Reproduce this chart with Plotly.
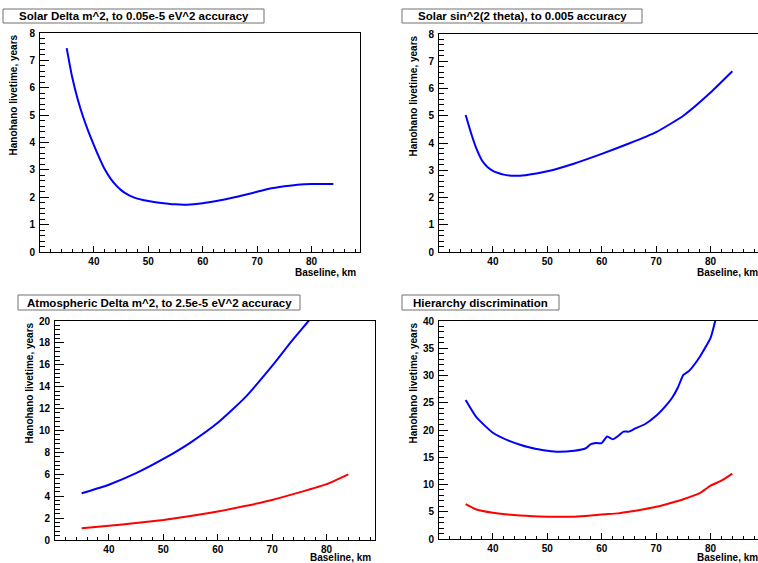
import plotly.graph_objects as go

W, H = 758, 563

# ---- data ----
p1_x = [35, 36, 37, 38, 39, 40, 41, 42, 43, 44, 45, 46, 47, 48, 49, 50, 52, 55, 57, 60, 63, 65, 68, 70, 72, 75, 78, 80, 84]
p1_y = [7.45, 6.4, 5.6, 4.95, 4.4, 3.9, 3.44, 3.02, 2.7, 2.45, 2.26, 2.12, 2.02, 1.95, 1.9, 1.86, 1.8, 1.74, 1.73, 1.78, 1.88, 1.96, 2.1, 2.2, 2.3, 2.4, 2.47, 2.48, 2.48]

p2_x = [35, 36, 37, 38, 39, 40, 41, 42, 43, 44, 45, 46, 48, 50, 55, 60, 65, 70, 75, 80, 84]
p2_y = [5.03, 4.36, 3.78, 3.36, 3.12, 2.98, 2.9, 2.84, 2.81, 2.8, 2.8, 2.82, 2.88, 2.96, 3.25, 3.6, 3.98, 4.4, 5.0, 5.85, 6.63]

p3_x = [35, 40, 45, 50, 55, 60, 65, 70, 73, 75, 77, 80]
p3_blue = [4.27, 5.05, 6.1, 7.4, 8.9, 10.7, 13.0, 15.9, 17.8, 19.0, 20.2, 22.3]
p3_rx = [35, 40, 45, 50, 55, 60, 65, 70, 75, 80, 84]
p3_red = [1.07, 1.3, 1.55, 1.83, 2.2, 2.6, 3.1, 3.66, 4.35, 5.1, 6.0]

p4_x = [35, 37, 40, 43, 45, 48, 50, 52, 55, 57, 58, 59, 60, 61, 62, 63, 64, 65, 66, 68, 70, 72, 73, 74, 75, 76, 78, 80, 81, 82]
p4_blue = [25.5, 22.3, 19.5, 18.0, 17.3, 16.5, 16.2, 16.0, 16.2, 16.6, 17.4, 17.6, 17.6, 18.8, 18.3, 18.9, 19.7, 19.7, 20.2, 21.1, 22.6, 24.7, 26.0, 27.8, 30.1, 30.8, 33.4, 36.9, 40.5, 43.0]
p4_rx = [35, 37, 40, 45, 50, 55, 58, 60, 63, 65, 68, 70, 73, 75, 78, 80, 82, 84]
p4_red = [6.4, 5.4, 4.8, 4.3, 4.1, 4.1, 4.3, 4.5, 4.7, 5.0, 5.5, 5.9, 6.7, 7.3, 8.4, 9.8, 10.7, 12.0]

titles = ["Solar Delta m^2, to 0.05e-5 eV^2 accuracy",
          "Solar sin^2(2 theta), to 0.005 accuracy",
          "Atmospheric Delta m^2, to 2.5e-5 eV^2 accuracy",
          "Hierarchy discrimination"]
xtitle = "Baseline, km"
ytitle = "Hanohano livetime, years"

BLUE = "#0000ff"
RED = "#ff0000"
FONT = "Liberation Sans, Arial, sans-serif"

def px(x):
    return x / W

def py(y):
    return 1 - y / H

# panel frames in pixels: (left, top, right, bottom)
frames = [(40, 33, 360, 252), (439, 34, 758, 252), (55, 321, 375, 540), (439, 321, 758, 539)]
kmpx = 320 / 58.8
xranges = [[30.1, 88.9], [30.1, 30.1 + 319 / kmpx], [30.1, 88.9], [30.1, 30.1 + 319 / kmpx]]
yranges = [[0, 8], [0, 8], [0, 20], [0, 40]]
ydt = [1, 1, 2, 5]
boxes = [(3, 9, 264, 23), (402, 9, 642, 23), (18, 295, 300, 310), (402, 295, 559, 310)]
ytitle_x = [13, 413, 29, 413]
xtitle_y = [272.5, 272.5, 557.5, 557.5]

fig = go.Figure()

series = [
    [(p1_x, p1_y, BLUE)],
    [(p2_x, p2_y, BLUE)],
    [(p3_x, p3_blue, BLUE), (p3_rx, p3_red, RED)],
    [(p4_x, p4_blue, BLUE), (p4_rx, p4_red, RED)],
]

for i, sl in enumerate(series):
    xa = "x" if i == 0 else f"x{i+1}"
    ya = "y" if i == 0 else f"y{i+1}"
    for (xs, ys, c) in sl:
        fig.add_trace(go.Scatter(x=xs, y=ys, mode="lines", line=dict(color=c, width=2, shape="spline", smoothing=0.5),
                                 xaxis=xa, yaxis=ya, showlegend=False, hoverinfo="skip"))

layout = dict(width=W, height=H, margin=dict(l=0, r=0, t=0, b=0, pad=0, autoexpand=False),
              paper_bgcolor="white", plot_bgcolor="white", showlegend=False,
              font=dict(family=FONT, size=10, color="black"))
annotations = []
shapes = []
for i in range(4):
    l, t, r, b = frames[i]
    xk = "xaxis" if i == 0 else f"xaxis{i+1}"
    yk = "yaxis" if i == 0 else f"yaxis{i+1}"
    yref_anchor = "y" if i == 0 else f"y{i+1}"
    xref_anchor = "x" if i == 0 else f"x{i+1}"
    layout[xk] = dict(domain=[px(l), min(1, px(r))], range=xranges[i], anchor=yref_anchor,
                      showgrid=False, zeroline=False, showline=True, linecolor="black", linewidth=1, mirror=True,
                      ticks="inside", ticklen=6, tickwidth=1, tickcolor="black", dtick=10, tick0=0,
                      tickfont=dict(family=FONT, size=10, weight="bold"), ticklabelstandoff=0,
                      automargin=False,
                      minor=dict(ticks="inside", ticklen=3, dtick=2, tick0=0, tickcolor="black", showgrid=False))
    mdt = ydt[i] / 5
    layout[yk] = dict(domain=[py(b), py(t)], range=yranges[i], anchor=xref_anchor,
                      showgrid=False, zeroline=False, showline=True, linecolor="black", linewidth=1, mirror=True,
                      ticks="inside", ticklen=9, tickwidth=1, tickcolor="black", dtick=ydt[i], tick0=0,
                      tickfont=dict(family=FONT, size=10, weight="bold"), ticklabelstandoff=2,
                      automargin=False,
                      minor=dict(ticks="inside", ticklen=4.5, dtick=mdt, tick0=0, tickcolor="black", showgrid=False))
    # title box
    bl, bt, br, bb = boxes[i]
    shapes.append(dict(type="rect", xref="paper", yref="paper", x0=px(bl), x1=px(br), y0=py(bb), y1=py(bt),
                       line=dict(color="#707070", width=1), fillcolor="white", layer="above"))
    annotations.append(dict(text=titles[i], xref="paper", yref="paper", x=px((bl + br) / 2), y=py((bt + bb) / 2),
                            xanchor="center", yanchor="middle", showarrow=False,
                            font=dict(family=FONT, size=11.5, weight="bold", color="black")))
    # y title (at top end of axis)
    annotations.append(dict(text=ytitle, xref="paper", yref="paper", x=px(ytitle_x[i]), y=py(t),
                            xanchor="center", yanchor="top", textangle=-90, showarrow=False,
                            font=dict(family=FONT, size=10, weight="bold", color="black")))
    # x title (at right end of axis)
    xr = (r - 2) if r < 758 else 760
    annotations.append(dict(text=xtitle, xref="paper", yref="paper", x=px(xr), y=py(xtitle_y[i]),
                            xanchor="right", yanchor="middle", showarrow=False,
                            font=dict(family=FONT, size=10, weight="bold", color="black")))

layout["annotations"] = annotations
layout["shapes"] = shapes
fig.update_layout(**layout)
fig.write_html("out.html", config={"displayModeBar": False},
               post_script="document.body.style.margin='0';document.body.style.overflow='hidden';")
